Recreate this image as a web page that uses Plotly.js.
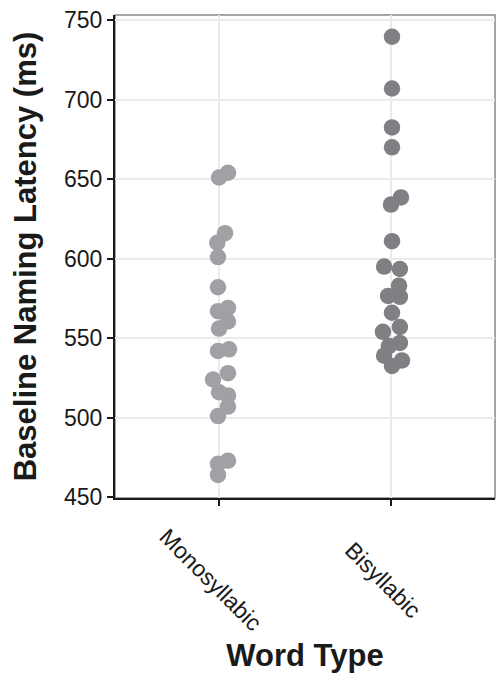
<!DOCTYPE html>
<html>
<head>
<meta charset="utf-8">
<script src="https://cdn.plot.ly/plotly-3.0.1.min.js"></script>
<style>html,body{margin:0;padding:0;background:#fff;}#chart{width:497px;height:673px;}</style>
</head>
<body>
<div id="chart"></div>
<script>
// Categories and tick labels
const categories = ["Monosyllabic", "Bisyllabic"];
const tickLabels = ["Monosyllabic", "Bisyllabic"];

// Baseline naming latency (ms)
const monoLatency = [654, 651, 616, 610, 601, 582, 569, 567, 560.5, 556, 543, 542, 528, 524, 516, 514, 507, 501, 473, 471, 464];
const biLatency   = [739.5, 707, 682.5, 670, 638.5, 634, 611, 595, 593.5, 583, 576.5, 576, 566, 557, 554, 547, 545, 539, 536, 532.5];

// Horizontal jitter of each point (category units)
const monoJitter = [0.052, 0.0, 0.035, -0.01, -0.006, -0.006, 0.052, -0.006, 0.052, 0.0, 0.058, -0.006, 0.052, -0.035, 0.0, 0.052, 0.052, -0.006, 0.052, -0.006, -0.006];
const biJitter   = [0.006, 0.006, 0.006, 0.006, 0.058, 0.0, 0.006, -0.04, 0.052, 0.047, -0.017, 0.052, 0.006, 0.052, -0.047, 0.052, -0.012, -0.04, 0.064, 0.006];

const monoX = monoLatency.map((v, i) => 0 + monoJitter[i]);
const biX = biLatency.map((v, i) => 1 + biJitter[i]);

const traces = [
  {type: "scatter", mode: "markers", x: monoX, y: monoLatency, name: categories[0],
   marker: {size: 16.5, color: "rgb(160,160,165)"}, hoverinfo: "y"},
  {type: "scatter", mode: "markers", x: biX, y: biLatency, name: categories[1],
   marker: {size: 16.5, color: "rgb(127,127,132)"}, hoverinfo: "y"}
];

const fontFam = "Liberation Sans, Arial, Helvetica, sans-serif";

const annotations = tickLabels.map((t, i) => ({
  text: t, x: i - 0.047, xref: "x", y: -0.17, yref: "paper",
  xanchor: "center", yanchor: "middle", textangle: 45, showarrow: false,
  font: {family: fontFam, size: 23, color: "#1a1a1a"}
}));

const layout = {
  width: 497, height: 673,
  margin: {l: 115, r: 2, t: 15, b: 175},
  paper_bgcolor: "#fff", plot_bgcolor: "#fff",
  showlegend: false,
  font: {family: fontFam, color: "#1a1a1a"},
  xaxis: {
    range: [-0.605, 1.605],
    tickvals: [0, 1], ticktext: tickLabels, showticklabels: false,
    ticks: "outside", ticklen: 6, tickwidth: 2, tickcolor: "#1a1a1a",
    showgrid: true, gridcolor: "#ebebeb", gridwidth: 2,
    showline: true, linecolor: "#1a1a1a", linewidth: 2,
    zeroline: false,
    title: {text: "<b>Word Type</b>", font: {family: fontFam, size: 31, color: "#1a1a1a"}, standoff: 142}
  },
  yaxis: {
    range: [449.5, 753.2],
    tickvals: [450, 500, 550, 600, 650, 700, 750],
    ticks: "outside", ticklen: 6, tickwidth: 2, tickcolor: "#1a1a1a",
    tickfont: {family: fontFam, size: 23, color: "#1a1a1a"},
    showgrid: true, gridcolor: "#ebebeb", gridwidth: 2,
    showline: true, linecolor: "#1a1a1a", linewidth: 2,
    zeroline: false,
    title: {text: "<b>Baseline Naming Latency (ms)</b>", font: {family: fontFam, size: 31, color: "#1a1a1a"}, standoff: 18}
  },
  shapes: [
    {type: "rect", xref: "paper", yref: "paper", x0: 0, x1: 1, y0: 0, y1: 1,
     line: {color: "#888", width: 1.5}, layer: "below"}
  ],
  annotations: annotations
};

Plotly.newPlot("chart", traces, layout, {staticPlot: true, displayModeBar: false});
</script>
</body>
</html>
